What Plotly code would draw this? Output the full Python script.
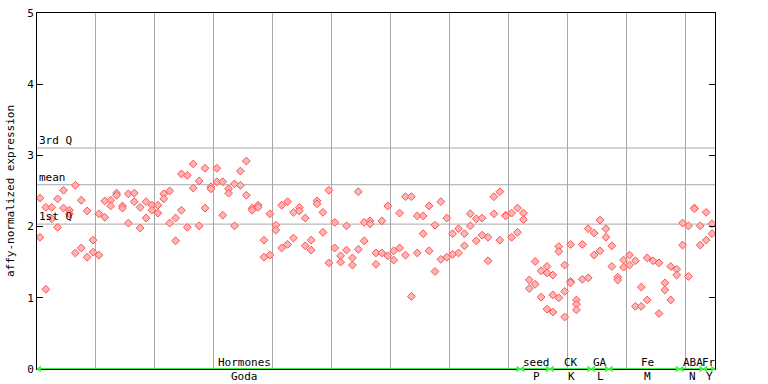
import plotly.graph_objects as go

# ---------------- data ----------------
# expression values per sample index (0..114)
sample_values = [
    [2.40, 1.85], [2.27, 1.12], [2.27, 2.11], [2.39, 1.99], [2.51, 2.26],
    [2.23, 2.18], [2.58, 1.63], [2.37, 1.70], [2.22, 1.57], [1.81, 1.64],
    [2.18, 1.60], [2.36, 2.13], [2.37, 2.29], [2.47, 2.44], [2.29, 2.26],
    [2.46, 2.05], [2.47, 2.35], [2.27, 1.98], [2.35, 2.12], [2.30, 2.23],
    [2.30, 2.19], [2.46, 2.39], [2.50, 2.05], [2.12, 1.80], [2.74, 2.23],
    [2.72, 1.99], [2.88, 2.54], [2.64, 2.01], [2.82, 2.26], [2.56, 2.53],
    [2.82, 2.63], [2.63, 2.16], [2.53, 2.47], [2.60, 2.01], [2.78, 2.58],
    [2.92, 2.44], [2.26, 2.23], [2.30, 2.27], [1.81, 1.57], [2.18, 1.60],
    [2.02, 1.95], [2.30, 1.70], [2.35, 1.75], [2.20, 1.84], [2.27, 2.22],
    [2.12, 1.73], [1.81, 1.67], [2.36, 2.32], [2.20, 1.92], [2.51, 1.49],
    [2.06, 1.70], [1.59, 1.50], [2.01, 1.67], [1.56, 1.46], [2.49, 1.68],
    [2.06, 1.80], [2.08, 2.04], [1.63, 1.47], [2.08, 1.63], [2.29, 1.59],
    [1.66, 1.53], [2.19, 1.70], [2.42, 1.60], [2.42, 1.02], [2.15, 1.63],
    [2.15, 1.90], [2.29, 1.66], [2.02, 1.37], [2.35, 1.54], [2.12, 1.57],
    [1.90, 1.61], [1.97, 1.63], [1.90, 1.73], [2.18, 2.01], [2.11, 1.80],
    [2.12, 1.88], [1.85, 1.52], [2.42, 2.18], [2.49, 1.81], [2.16, 2.15],
    [2.19, 1.85], [2.26, 1.92], [2.19, 2.10], [1.25, 1.13], [1.51, 1.19],
    [1.38, 1.01], [1.44, 1.35, 0.84], [1.32, 1.04, 0.80], [1.72, 1.65, 1.00],
    [1.46, 1.09, 0.73], [1.75, 1.23, 1.21], [0.97, 0.91, 0.83], [1.75, 1.26],
    [1.97, 1.28], [1.91, 1.60], [2.09, 1.66], [1.97, 1.85], [1.73, 1.44],
    [1.29, 1.25], [1.53, 1.43], [1.60, 1.46], [1.52, 0.88], [1.15, 0.88],
    [1.56, 0.97], [1.52], [1.49, 0.78], [1.21, 1.11], [1.44, 0.97],
    [1.40, 1.32], [2.05, 1.74], [2.01, 1.30], [2.26, 2.25], [2.01, 1.74],
    [2.20, 1.81], [2.04, 1.90],
]

# experiment groups: (top label, bottom label, first sample, last sample)
group_names = ["Hormones", "seed", "CK", "GA", "Fe", "ABA", "Fr"]
group_codes = ["Goda", "P", "K", "L", "M", "N", "Y"]
group_start = [0, 82, 87, 94, 97, 109, 113]
group_end = [81, 86, 93, 96, 108, 112, 114]

# summary lines
q1_value = 2.035
mean_value = 2.588
q3_value = 3.104
ref_names = ["3rd Q", "mean", "1st Q"]
ref_values = [q3_value, mean_value, q1_value]

y_ticks = [0, 1, 2, 3, 4, 5]
y_title = "affy-normalized expression"

# ---------------- layout constants ----------------
n_samples = len(sample_values)
grid_every = 10
label_x = [34.7, 84.2, 90.1, 95.0, 103.0, 110.7, 113.5]
FONT = "DejaVu Sans Mono"
RED_FILL = "#ffb4b4"
RED_LINE = "#ff5050"
GREEN = "#44ee44"
GRAY = "#a8a8a8"

xs, ys = [], []
for i, vals in enumerate(sample_values):
    for v in vals:
        xs.append(i)
        ys.append(v)

fig = go.Figure()

# green group arrows on the baseline
for s, e in zip(group_start, group_end):
    fig.add_trace(go.Scatter(
        x=[s - 0.4, e + 0.4], y=[0, 0], mode="lines",
        line=dict(color=GREEN, width=2), hoverinfo="skip",
        showlegend=False, cliponaxis=False))
    fig.add_trace(go.Scatter(
        x=[s - 0.1, e + 0.1], y=[0, 0], mode="markers",
        marker=dict(symbol=["triangle-left", "triangle-right"], size=6,
                    color=GREEN),
        hoverinfo="skip", showlegend=False, cliponaxis=False))

fig.add_trace(go.Scatter(
    x=xs, y=ys, mode="markers",
    marker=dict(symbol="diamond", size=6, color=RED_FILL,
                line=dict(color=RED_LINE, width=1)),
    showlegend=False))

# reference lines
for name, val in zip(ref_names, ref_values):
    fig.add_shape(type="line", xref="paper", x0=0, x1=1, yref="y",
                  y0=val, y1=val, line=dict(color=GRAY, width=1), layer="below")
    fig.add_annotation(x=-0.5, y=val, xref="x", yref="y", text=name,
                       showarrow=False, xanchor="left", yanchor="bottom",
                       yshift=-1, font=dict(family=FONT, size=11, color="black"))

# group labels
for lx, name, code in zip(label_x, group_names, group_codes):
    fig.add_annotation(x=lx, y=0, xref="x", yref="y", text=name,
                       showarrow=False, xanchor="center", yanchor="middle",
                       yshift=7, font=dict(family=FONT, size=11, color="black"))
    fig.add_annotation(x=lx, y=0, xref="x", yref="y", text=code,
                       showarrow=False, xanchor="center", yanchor="middle",
                       yshift=-7, font=dict(family=FONT, size=11, color="black"))

grid_vals = [k - 0.5 for k in range(grid_every, n_samples, grid_every)]

fig.update_layout(
    width=768, height=384,
    margin=dict(l=37, r=53, t=13, b=15, autoexpand=False),
    paper_bgcolor="white", plot_bgcolor="white",
    font=dict(family=FONT, size=11, color="black"),
    xaxis=dict(range=[-0.5, n_samples - 0.5], tickvals=grid_vals,
               showticklabels=False, ticks="", showgrid=True,
               gridcolor=GRAY, gridwidth=1, zeroline=False,
               showline=True, linecolor="black", linewidth=1, mirror=True,
               layer="below traces"),
    yaxis=dict(range=[0, 5], tickvals=y_ticks, ticks="inside", ticklen=6,
               tickcolor="black", showgrid=False, zeroline=False,
               showline=True, linecolor="black", linewidth=1, mirror="ticks",
               tickfont=dict(family=FONT, size=11),
               title=dict(text=y_title, font=dict(family=FONT, size=11),
                          standoff=10)),
)

fig.write_html(
    "out.html",
    config={"displayModeBar": False},
    post_script="document.body.style.margin='0';document.body.style.overflow='hidden';",
)
